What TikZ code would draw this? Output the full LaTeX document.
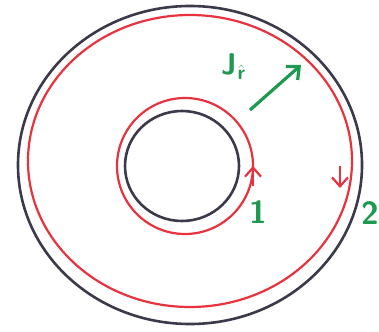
\documentclass[tikz,border=0pt]{standalone}
\usetikzlibrary{arrows.meta}
\definecolor{pen}{HTML}{3C3A4A}
\definecolor{rpen}{HTML}{E8323E}
\definecolor{gpen}{HTML}{1E9A50}
\begin{document}
\begin{tikzpicture}[x=1pt,y=-1pt,
  blackline/.style={draw=pen,line width=2.6pt},
  redline/.style={draw=rpen,line width=2.2pt},
  lbl/.style={text=gpen,font=\sffamily\bfseries\fontsize{32}{32}\selectfont,inner sep=0pt},
  redtip/.style={rpen,line width=2.2pt,-{Straight Barb[length=9pt,width=16pt]}}]
\useasboundingbox (0,0) rectangle (379,331);
\fill[white] (0,0) rectangle (379,331);
% outer black and red loops
\draw[blackline] (190,165) ellipse [x radius=172, y radius=159];
\draw[redline] (190,161) ellipse [x radius=162, y radius=146];
% inner black and red loops
\draw[blackline] (182,166) ellipse [x radius=57, y radius=55];
\draw[redline] (185,166) ellipse [x radius=68, y radius=68];
% direction marks
\coordinate (a1s) at (253,186);
\coordinate (a1e) at (253,166);
\draw[redtip] (a1s) -- (a1e);
\coordinate (a2s) at (340,166);
\coordinate (a2e) at (340,188);
\draw[redtip] (a2s) -- (a2e);
% current density arrow
\coordinate (js) at (250,110);
\coordinate (je) at (301,65);
\draw[gpen,line width=3.2pt,-{Straight Barb[length=10pt,width=18pt]}] (js) -- (je);
\node[lbl,font=\sffamily\bfseries\fontsize{30}{30}\selectfont] (jr) at (233,67) {J\kern1pt\raisebox{-5pt}{\fontsize{20}{20}\selectfont$\hat{\textsf{\textbf{r}}}$}};
\node[lbl] (n1) at (258,212) {1};
\node[lbl] (n2) at (370,213) {2};
\end{tikzpicture}
\end{document}
